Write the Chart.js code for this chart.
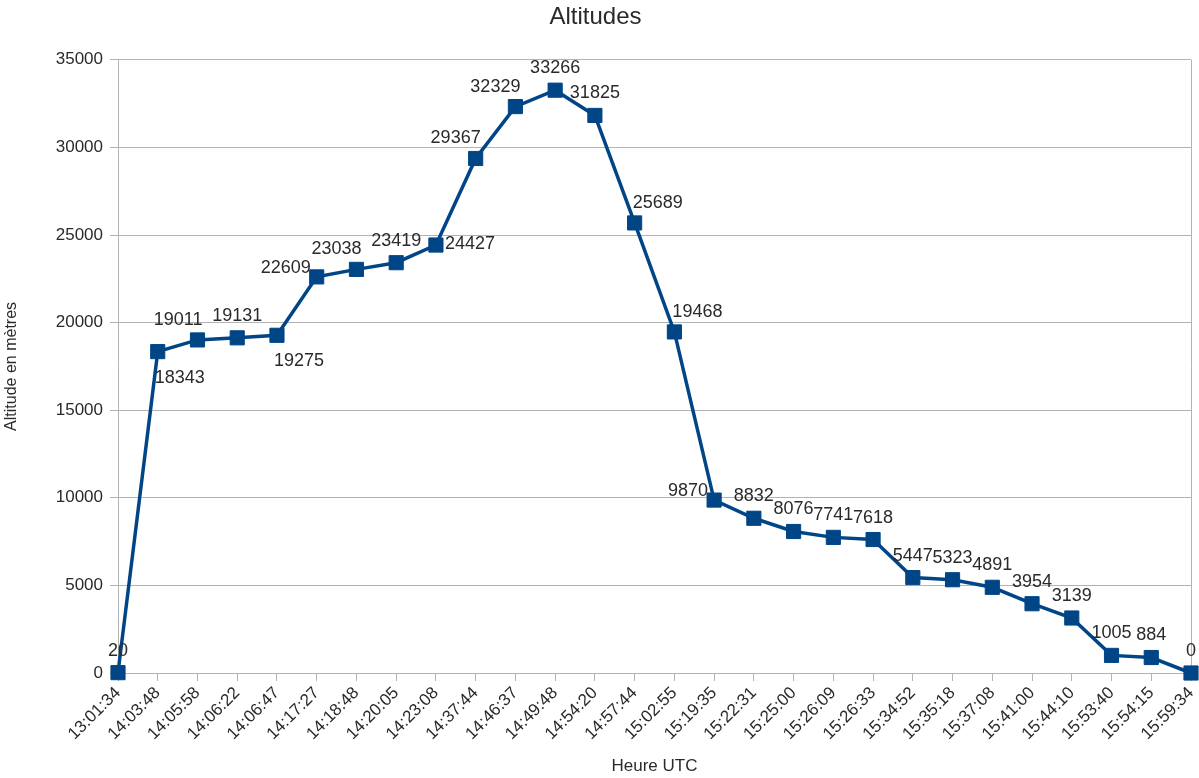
<!DOCTYPE html>
<html>
<head>
<meta charset="utf-8">
<title>Altitudes</title>
<script src="https://cdn.jsdelivr.net/npm/chart.js@4/dist/chart.umd.min.js"></script>
<style>
  html, body { margin: 0; padding: 0; background: #fff; }
  #wrap { width: 1199px; height: 778px; }
</style>
</head>
<body>
<div id="wrap"><canvas id="myChart"></canvas></div>
<script>
// heures de passage (axe X)
var heures = ["13:01:34", "14:03:48", "14:05:58", "14:06:22", "14:06:47", "14:17:27", "14:18:48",
    "14:20:05", "14:23:08", "14:37:44", "14:46:37", "14:49:48", "14:54:20", "14:57:44", "15:02:55",
    "15:19:35", "15:22:31", "15:25:00", "15:26:09", "15:26:33", "15:34:52", "15:35:18", "15:37:08",
    "15:41:00", "15:44:10", "15:53:40", "15:54:15", "15:59:34"];

// altitudes en metres
var altitudes = [20, 18343, 19011, 19131, 19275, 22609, 23038, 23419, 24427, 29367, 32329, 33266,
    31825, 25689, 19468, 9870, 8832, 8076, 7741, 7618, 5447, 5323, 4891, 3954, 3139, 1005, 884, 0];

var yTicks = [0, 5000, 10000, 15000, 20000, 25000, 30000, 35000];

// placement des etiquettes de valeur
var placement = ["above", "belowRight", "aboveLeft", "above", "belowRight", "left", "aboveLeft", "above",
    "right", "aboveLeft", "aboveLeft", "above", "above", "aboveRight", "aboveRight", "left", "above",
    "above", "above", "above", "above", "above", "above", "above", "above", "above", "above", "above"];

var bleu = "#004586";
var gris = "#b3b3b3";
var texte = "#2a2a2a";
var police = "'Liberation Sans', Arial, sans-serif";

var valueLabels = {
    id: 'valueLabels',
    afterDatasetsDraw: function (chart) {
        var c = chart.ctx;
        var pts = chart.getDatasetMeta(0).data;
        c.save();
        c.font = "18px " + police;
        c.fillStyle = texte;
        c.textBaseline = "middle";
        for (var i = 0; i < pts.length; i++) {
            var x = pts[i].x, y = pts[i].y;
            var p = placement[i];
            if (p == "above") { c.textAlign = "center"; y -= 22; }
            else if (p == "aboveLeft") { c.textAlign = "right"; x += 5; y -= 20; }
            else if (p == "aboveRight") { c.textAlign = "left"; x -= 2; y -= 20; }
            else if (p == "left") { c.textAlign = "right"; x -= 6; y -= 9; }
            else if (p == "right") { c.textAlign = "left"; x += 9; y -= 1; }
            else if (p == "belowRight") { c.textAlign = "left"; x -= 3; y += 26; }
            c.fillText(String(altitudes[i]), x, y);
        }
        c.restore();
    }
};

var rightBorder = {
    id: 'rightBorder',
    beforeDatasetsDraw: function (chart) {
        var a = chart.chartArea, c = chart.ctx;
        c.save();
        c.strokeStyle = gris;
        c.lineWidth = 1;
        c.beginPath();
        c.moveTo(a.right + 0.5, a.top);
        c.lineTo(a.right + 0.5, a.bottom);
        c.stroke();
        c.restore();
    }
};

var ctx = document.getElementById("myChart");

var altChart = new Chart(ctx, {
    type: 'line',
    data: {
        labels: heures,
        datasets: [{
            label: "Altitude",
            data: altitudes,
            borderColor: bleu,
            backgroundColor: bleu,
            borderWidth: 3.5,
            pointStyle: 'rect',
            pointRadius: 10,
            pointHoverRadius: 10,
            pointBackgroundColor: bleu,
            pointBorderColor: bleu,
            pointBorderWidth: 1,
            tension: 0,
            fill: false,
            clip: false
        }]
    },
    options: {
        responsive: true,
        maintainAspectRatio: false,
        animation: false,
        layout: { autoPadding: false, padding: { left: 0, right: 8, top: 0, bottom: 0 } },
        plugins: {
            legend: { display: false },
            tooltip: { enabled: false },
            title: {
                display: true,
                text: "Altitudes",
                color: texte,
                font: { family: police, size: 24, weight: 'normal' },
                padding: { top: 3, bottom: 28 }
            }
        },
        scales: {
            x: {
                offset: false,
                grid: { display: true, drawOnChartArea: false, drawTicks: true, tickLength: 8, color: gris },
                border: { color: gris, width: 1 },
                ticks: {
                    color: texte,
                    font: { family: police, size: 17 },
                    minRotation: 45,
                    maxRotation: 45,
                    autoSkip: false,
                    padding: 2
                },
                title: {
                    display: true,
                    text: "Heure UTC",
                    color: texte,
                    font: { family: police, size: 17 },
                    padding: { top: 0, bottom: 1 }
                },
                afterFit: function (scale) {
                    scale.height = 105;
                    scale.paddingLeft = 0;
                    scale.paddingRight = 0;
                }
            },
            y: {
                min: 0,
                max: 35000,
                afterBuildTicks: function (scale) {
                    scale.ticks = yTicks.map(function (v) { return { value: v }; });
                },
                grid: { color: gris, tickLength: 8 },
                border: { color: gris, width: 1 },
                ticks: {
                    color: texte,
                    font: { family: police, size: 17 },
                    padding: 7,
                    callback: function (v) { return String(v); }
                },
                title: {
                    display: true,
                    text: "Altitude en mètres",
                    color: texte,
                    font: { family: police, size: 16 },
                    padding: { top: 2, bottom: 0 }
                },
                afterFit: function (scale) { scale.width = 118; }
            }
        }
    },
    plugins: [valueLabels, rightBorder]
});
</script>
</body>
</html>
